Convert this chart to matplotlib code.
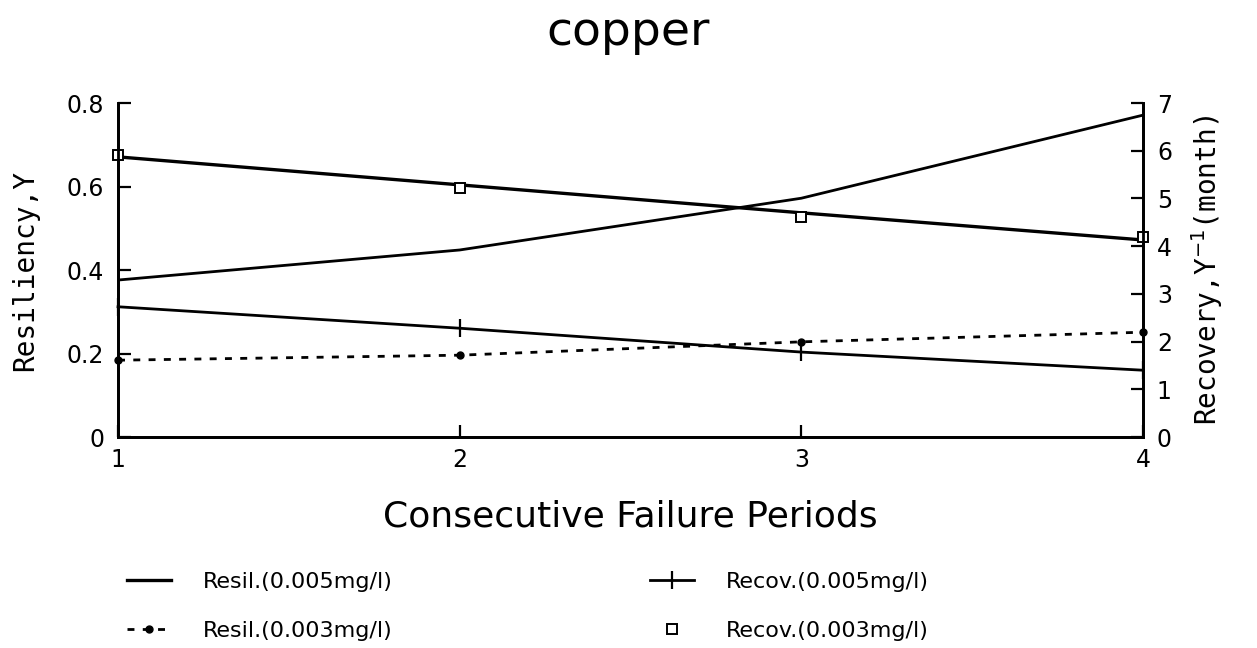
import matplotlib
matplotlib.use("Agg")
from matplotlib import pyplot as plt

periods = [1, 2, 3, 4]
resil_005 = [0.671, 0.604, 0.537, 0.472]
resil_003 = [0.184, 0.196, 0.228, 0.251]
recov_005 = [2.73, 2.28, 1.78, 1.40]
recov_003 = [5.91, 5.22, 4.61, 4.19]
# rising curve in the figure, no legend entry
unlabeled = [0.376, 0.448, 0.572, 0.771]

left_ticks = [0, 0.2, 0.4, 0.6, 0.8]
left_labels = ["0", "0.2", "0.4", "0.6", "0.8"]
right_ticks = [0, 1, 2, 3, 4, 5, 6, 7]

fig = plt.figure(figsize=(12.57, 6.48), dpi=100)
ax = fig.add_axes([0.0939, 0.3256, 0.8154, 0.5154])
ax2 = ax.twinx()

l1, = ax.plot(periods, resil_005, color="black", lw=2.4, label="Resil.(0.005mg/l)")
ax.plot(periods, unlabeled, color="black", lw=2.0)
l2, = ax.plot(periods, resil_003, color="black", lw=2.0, linestyle=(0, (2.5, 3)),
              marker="o", markersize=5, clip_on=False, label="Resil.(0.003mg/l)")
l3, = ax2.plot(periods, recov_005, color="black", lw=2.0, marker="|", markersize=13,
               markeredgewidth=1.6, clip_on=False, label="Recov.(0.005mg/l)")
l4, = ax2.plot(periods, recov_003, color="black", lw=0, marker="s", markersize=7,
               markerfacecolor="white", markeredgewidth=1.4, clip_on=False,
               label="Recov.(0.003mg/l)")

ax.set_xlim(1, 4)
ax.set_ylim(0, 0.8)
ax2.set_ylim(0, 7)
ax.set_xticks(periods)
ax.set_yticks(left_ticks)
ax.set_yticklabels(left_labels)
ax2.set_yticks(right_ticks)

for a in (ax, ax2):
    a.spines["top"].set_visible(False)
    for s in a.spines.values():
        s.set_linewidth(2.0)
    a.tick_params(direction="in", length=9, width=1.6, labelsize=17, pad=10)
ax.tick_params(axis="x", pad=8)

ax.set_xlabel("Consecutive Failure Periods", fontsize=26, labelpad=20)
ax.set_ylabel("Resiliency,Y", fontsize=20, family="DejaVu Sans Mono", labelpad=20)
ax2.set_ylabel("Recovery,Y$^{-1}$(month)", fontsize=20, family="DejaVu Sans Mono", labelpad=12)
fig.suptitle("copper", fontsize=34, y=0.985)

fig.legend(handles=[l1, l2, l3, l4], ncol=2, loc="lower left",
           bbox_to_anchor=(0.085, -0.02), frameon=False, fontsize=16,
           handlelength=2.0, handletextpad=1.4, columnspacing=11.6, labelspacing=1.3)

plt.savefig("out.png", dpi=100)
